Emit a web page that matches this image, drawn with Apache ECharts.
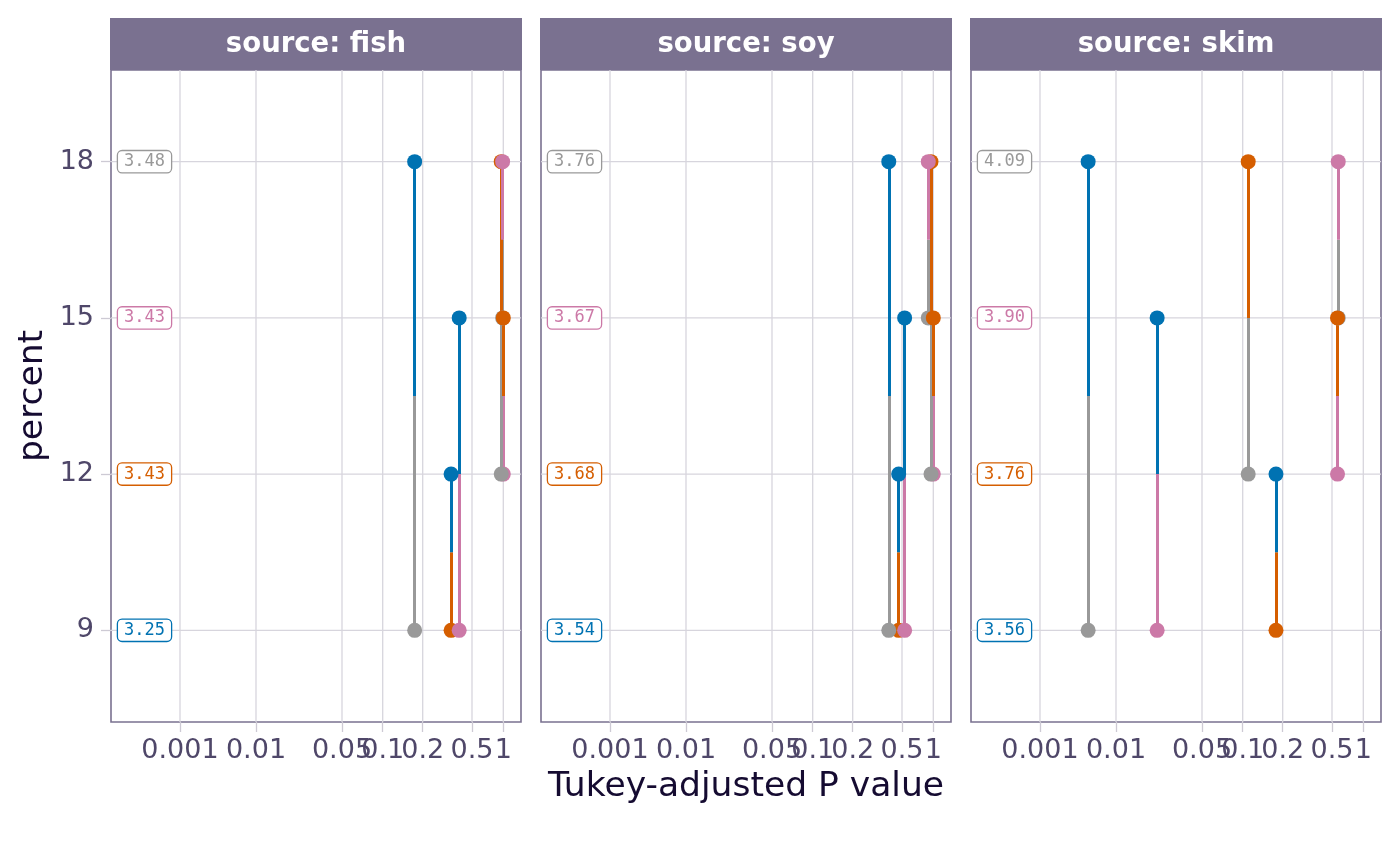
<!DOCTYPE html>
<html>
<head>
<meta charset="utf-8">
<script src="https://cdn.jsdelivr.net/npm/echarts@6/dist/echarts.min.js"></script>
<style>
  html, body { margin: 0; padding: 0; background: #fff; }
  #chart { width: 1400px; height: 866px; }
</style>
</head>
<body>
<div id="chart"></div>
<script>
const sources = ['fish', 'soy', 'skim'];
const percentLevels = [9, 12, 15, 18];
const levelColors = ['#0072B2', '#D55E00', '#CC79A7', '#999999'];

// estimated marginal means shown in the boxes, one per percent level
const emmeanFish = ['3.25', '3.43', '3.43', '3.48'];
const emmeanSoy = ['3.54', '3.68', '3.67', '3.76'];
const emmeanSkim = ['3.56', '3.76', '3.90', '4.09'];

// pairwise comparisons (indices into percentLevels) and their Tukey p values
const pairs = [[0, 1], [0, 2], [0, 3], [1, 2], [1, 3], [2, 3]];
const pFish = [0.339, 0.394, 0.174, 1.000, 0.955, 0.985];
const pSoy = [0.470, 0.530, 0.391, 1.000, 0.950, 0.895];
const pSkim = [0.178, 0.0216, 0.0043, 0.565, 0.110, 0.574];

const pBreaks = [0.001, 0.01, 0.05, 0.1, 0.2, 0.5, 1];
const pBreakLabels = ['0.001', '0.01', '0.05', '0.1', '0.2', '0.5', '1'];

const emmeans = [emmeanFish, emmeanSoy, emmeanSkim];
const pvals = [pFish, pSoy, pSkim];

// pwpp uses a flattened log scale for p; knots
const tranKnots = [69, 145, 231, 271.7, 311.7, 361, 392.3];
function pvalTran(p) {
  const lp = Math.log10(p);
  const n = pBreaks.length;
  for (let k = 0; k < n - 1; k++) {
    const a = Math.log10(pBreaks[k]), b = Math.log10(pBreaks[k + 1]);
    if (lp <= b || k === n - 2) {
      const f = (lp - a) / (b - a);
      return tranKnots[k] + f * (tranKnots[k + 1] - tranKnots[k]);
    }
  }
}
const tickPos = pBreaks.map(pvalTran);
function tickLabel(v) {
  let best = 0;
  tickPos.forEach((t, i) => { if (Math.abs(t - v) < Math.abs(tickPos[best] - v)) best = i; });
  return pBreakLabels[best];
}

const X_MIN = 0, X_MAX = 410;
const Y_MIN = 7.24, Y_MAX = 19.76;
const LABEL_X = 33.5;

const gridCol = '#d7d5dd';
const frameCol = '#7a7190';
const tickTextCol = '#4f4769';
const titleCol = '#150b31';
const FONT = 'DejaVu Sans';

const grids = [], xAxes = [], yAxes = [], series = [], graphics = [];

sources.forEach((src, i) => {
  const left = 111 + 430 * i;
  grids.push({
    left: left, top: 70, width: 410, height: 652,
    show: true, backgroundColor: '#fff', borderColor: frameCol, borderWidth: 1.6
  });
  xAxes.push({
    type: 'value', gridIndex: i, min: X_MIN, max: X_MAX,
    axisLine: { show: false },
    splitLine: { show: false },
    axisTick: { show: true, customValues: tickPos, length: 10, lineStyle: { color: '#cdcad4', width: 1.3 } },
    axisLabel: {
      customValues: tickPos, formatter: v => tickLabel(v),
      color: tickTextCol, fontSize: 27, fontFamily: FONT, margin: 15
    }
  });
  yAxes.push({
    type: 'value', gridIndex: i, min: Y_MIN, max: Y_MAX,
    axisLine: { show: false },
    splitLine: { show: false },
    axisTick: { show: i === 0, customValues: percentLevels, length: 10, lineStyle: { color: '#cdcad4', width: 1.3 } },
    axisLabel: {
      show: i === 0, customValues: percentLevels,
      color: tickTextCol, fontSize: 27, fontFamily: FONT, margin: 17
    }
  });

  // grid lines
  series.push({
    type: 'custom', xAxisIndex: i, yAxisIndex: i, silent: true, z: 1,
    data: tickPos.map(x => [x, 13.5]),
    renderItem: (params, api) => {
      const x = api.value(0);
      const a = api.coord([x, Y_MIN]), b = api.coord([x, Y_MAX]);
      return { type: 'line', shape: { x1: a[0], y1: a[1], x2: b[0], y2: b[1] }, style: { stroke: gridCol, lineWidth: 1.3 } };
    }
  });
  series.push({
    type: 'custom', xAxisIndex: i, yAxisIndex: i, silent: true, z: 1,
    data: percentLevels.map(y => [200, y]),
    renderItem: (params, api) => {
      const y = api.value(1);
      const a = api.coord([X_MIN, y]), b = api.coord([X_MAX, y]);
      return { type: 'line', shape: { x1: a[0], y1: a[1], x2: b[0], y2: b[1] }, style: { stroke: gridCol, lineWidth: 1.3 } };
    }
  });

  // half segments and end points: each end coloured by the level it is compared with
  const segs = [], pts = [];
  [0, 1].forEach(end => {
    pairs.forEach((pr, k) => {
      const here = pr[end], other = pr[1 - end];
      const x = pvalTran(pvals[i][k]);
      const yHere = percentLevels[here];
      const yMid = (percentLevels[pr[0]] + percentLevels[pr[1]]) / 2;
      segs.push({ coords: [[x, yHere], [x, yMid]], lineStyle: { color: levelColors[other] } });
      pts.push({ value: [x, yHere], itemStyle: { color: levelColors[other] } });
    });
  });
  series.push({
    type: 'lines', coordinateSystem: 'cartesian2d', xAxisIndex: i, yAxisIndex: i,
    silent: true, z: 2, data: segs,
    lineStyle: { width: 3, opacity: 1, cap: 'butt' }
  });
  series.push({
    type: 'scatter', xAxisIndex: i, yAxisIndex: i, silent: true, z: 3,
    symbol: 'circle', symbolSize: 15, itemStyle: { opacity: 1 }, data: pts
  });

  // emmean boxes
  series.push({
    type: 'scatter', xAxisIndex: i, yAxisIndex: i, silent: true, z: 4,
    symbolSize: 1, itemStyle: { color: 'rgba(0,0,0,0)', opacity: 1 },
    data: percentLevels.map((lv, j) => ({
      value: [LABEL_X, lv],
      label: { formatter: emmeans[i][j], color: levelColors[j], borderColor: levelColors[j] }
    })),
    label: {
      show: true, position: 'inside', fontFamily: 'DejaVu Sans Mono', fontSize: 17, lineHeight: 17,
      backgroundColor: '#fff', borderWidth: 1.3, borderRadius: 4, padding: [3, 6, 1, 6]
    }
  });

  // facet strip
  graphics.push({
    type: 'rect', shape: { x: left - 1, y: 18, width: 412, height: 52 },
    style: { fill: frameCol }, z: 10
  });
  graphics.push({
    type: 'text', x: left + 205, y: 45, z: 11,
    style: {
      text: 'source: ' + src, fill: '#fff', font: 'bold 27.5px "DejaVu Sans"',
      textAlign: 'center', textVerticalAlign: 'middle'
    }
  });
});

graphics.push({
  type: 'text', x: 746, y: 787, z: 11,
  style: { text: 'Tukey-adjusted P value', fill: titleCol, font: '34.5px "DejaVu Sans"', textAlign: 'center', textVerticalAlign: 'middle' }
});
graphics.push({
  type: 'text', x: 33, y: 396, rotation: Math.PI / 2, z: 11,
  style: { text: 'percent', fill: titleCol, font: '34.5px "DejaVu Sans"', textAlign: 'center', textVerticalAlign: 'middle' }
});

const chart = echarts.init(document.getElementById('chart'), null, { renderer: 'canvas' });
chart.setOption({
  animation: false,
  backgroundColor: '#fff',
  grid: grids,
  xAxis: xAxes,
  yAxis: yAxes,
  series: series,
  graphic: graphics
});
</script>
</body>
</html>
